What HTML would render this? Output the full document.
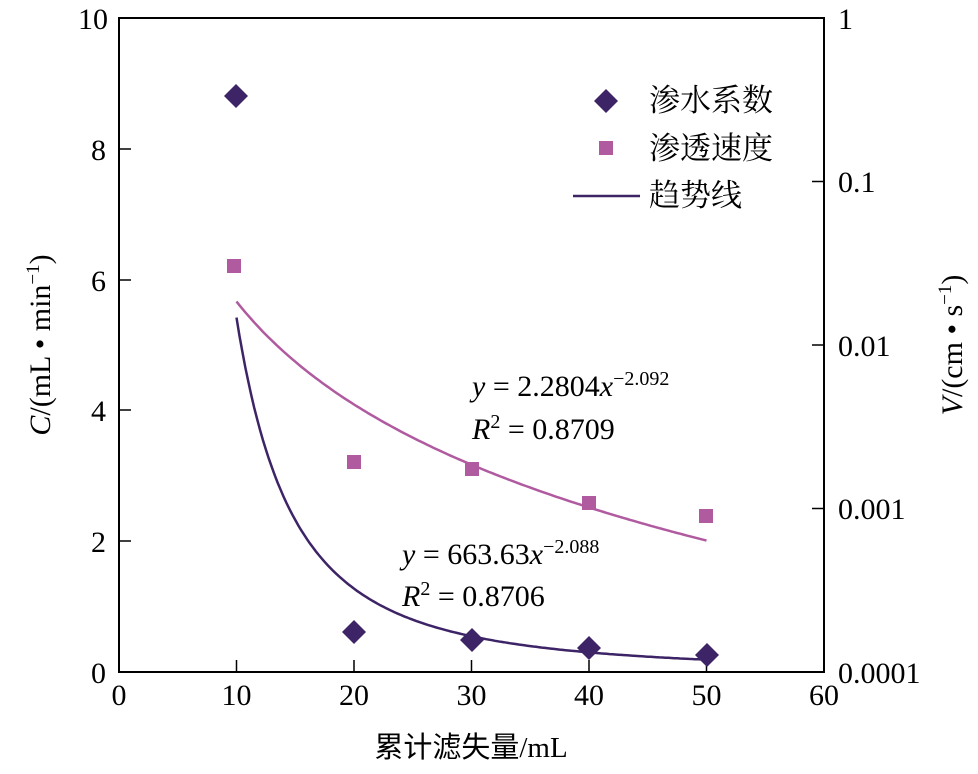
<!DOCTYPE html>
<html><head><meta charset="utf-8"><style>
body{margin:0;background:#fff}
svg text{font-family:"Liberation Serif","Noto Serif CJK SC",serif;fill:#000}
.cjk{font-family:"Liberation Serif","Noto Sans CJK SC",sans-serif}
</style></head><body>
<svg id="s" width="978" height="769" xmlns="http://www.w3.org/2000/svg">
<rect x="119" y="18" width="705" height="654" fill="none" stroke="#000" stroke-width="2"/>
<g stroke="#000" stroke-width="1.5">
<line x1="236.5" y1="672" x2="236.5" y2="660"/><line x1="354" y1="672" x2="354" y2="660"/>
<line x1="471.5" y1="672" x2="471.5" y2="660"/><line x1="589" y1="672" x2="589" y2="660"/>
<line x1="706.5" y1="672" x2="706.5" y2="660"/>
<line x1="119" y1="149" x2="131" y2="149"/><line x1="119" y1="280" x2="131" y2="280"/>
<line x1="119" y1="410" x2="131" y2="410"/><line x1="119" y1="541" x2="131" y2="541"/>
<line x1="824" y1="181.5" x2="812" y2="181.5"/><line x1="824" y1="345" x2="812" y2="345"/>
<line x1="824" y1="508.5" x2="812" y2="508.5"/>
</g>
<g font-size="30" text-anchor="middle">
<text x="119" y="705">0</text><text x="236.5" y="705">10</text><text x="354" y="705">20</text>
<text x="471.5" y="705">30</text><text x="589" y="705">40</text><text x="706.5" y="705">50</text><text x="824" y="705">60</text>
</g>
<g font-size="30" text-anchor="end">
<text x="106" y="683">0</text><text x="106" y="552">2</text><text x="106" y="421">4</text>
<text x="106" y="291">6</text><text x="106" y="160">8</text><text x="108" y="29">10</text>
</g>
<g font-size="30">
<text x="838" y="29">1</text><text x="838" y="192">0.1</text><text x="838" y="356">0.01</text>
<text x="838" y="519">0.001</text><text x="838" y="683">0.0001</text>
</g>
<text class="cjk" x="471" y="757" font-size="29" text-anchor="middle">累计滤失量/mL</text>
<text transform="translate(50,345) rotate(-90)" font-size="30" text-anchor="middle"><tspan font-style="italic">C</tspan>/(mL • min<tspan dy="-11" font-size="19">−1</tspan><tspan dy="11">)</tspan></text>
<text transform="translate(962,345) rotate(-90)" font-size="30" text-anchor="middle"><tspan font-style="italic">V</tspan>/(cm • s<tspan dy="-11" font-size="19">−1</tspan><tspan dy="11">)</tspan></text>
<path id="c1" fill="none" stroke="#3d2466" stroke-width="2.5"/>
<path id="c2" fill="none" stroke="#b05aa0" stroke-width="2.5"/>
<g fill="#3d2466">
<polygon points="236,84 248,96 236,108 224,96"/><polygon points="354,620 366,632 354,644 342,632"/>
<polygon points="472,628 484,640 472,652 460,640"/><polygon points="589,636 601,648 589,660 577,648"/>
<polygon points="707,643 719,655 707,667 695,655"/>
<polygon points="606,89 618,101 606,113 594,101"/>
</g>
<g fill="#b05aa0">
<rect x="227" y="259" width="14" height="14"/><rect x="347" y="455" width="14" height="14"/>
<rect x="465" y="462" width="14" height="14"/><rect x="582" y="496" width="14" height="14"/>
<rect x="699" y="509" width="14" height="14"/><rect x="599" y="141" width="14" height="14"/>
</g>
<line x1="573" y1="196" x2="640" y2="196" stroke="#3d2466" stroke-width="2.5"/>
<g class="cjk" font-size="31"><text x="649" y="111">渗水系数</text><text x="649" y="159">渗透速度</text><text x="649" y="206">趋势线</text></g>
<g font-size="30">
<text x="472" y="396"><tspan font-style="italic">y</tspan> = 2.2804<tspan font-style="italic">x</tspan><tspan dy="-11" font-size="20">−2.092</tspan></text>
<text x="472" y="439"><tspan font-style="italic">R</tspan><tspan dy="-11" font-size="20">2</tspan><tspan dy="11"> = 0.8709</tspan></text>
<text x="402" y="564"><tspan font-style="italic">y</tspan> = 663.63<tspan font-style="italic">x</tspan><tspan dy="-11" font-size="20">−2.088</tspan></text>
<text x="402" y="606"><tspan font-style="italic">R</tspan><tspan dy="-11" font-size="20">2</tspan><tspan dy="11"> = 0.8706</tspan></text>
</g>
</svg>
<script>
var a="",b="";
for(var x=10;x<=50.001;x+=0.25){var px=119+x*11.75;
var y1=663.63*Math.pow(x,-2.088);var py1=672-y1*65.4;
var y2=2.2804*Math.pow(x,-2.092);var py2=18-Math.log10(y2)*163.5;
a+=(a?"L":"M")+px.toFixed(1)+","+py1.toFixed(1);b+=(b?"L":"M")+px.toFixed(1)+","+py2.toFixed(1);}
document.getElementById("c1").setAttribute("d",a);document.getElementById("c2").setAttribute("d",b);
</script>
</body></html>
